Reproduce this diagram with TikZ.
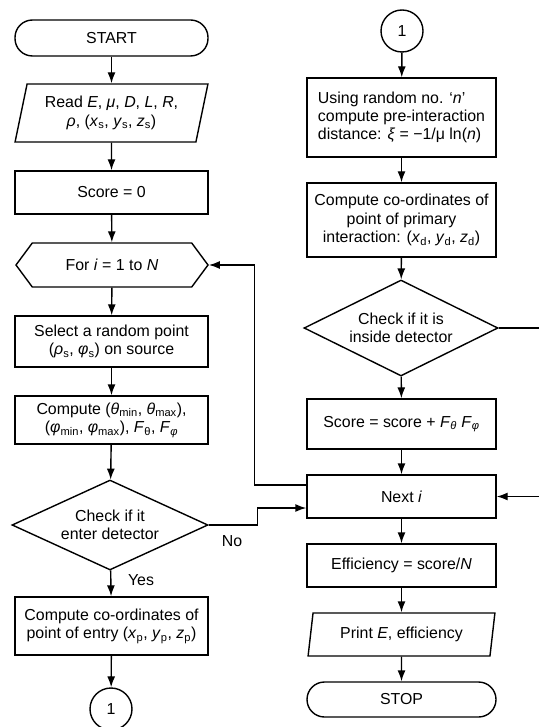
\documentclass[tikz,border=0pt]{standalone}
\usepackage{fontspec}
\setmainfont{Liberation Sans}
\usetikzlibrary{arrows.meta,shapes.geometric,shapes.symbols}

\newcommand{\vsub}[2]{\textit{#1}\textsubscript{#2}}

\tikzset{
  term/.style={draw, rectangle, rounded corners=17.5pt, minimum height=36pt},
  proc/.style={draw, rectangle, inner sep=0pt, align=center},
  io/.style={draw, trapezium, trapezium stretches=true, inner sep=0pt,
    align=center},
  loopbox/.style={draw, signal, signal to=east and west,
    signal pointer angle=107, inner sep=0pt, minimum width=192pt,
    minimum height=44pt},
  decide/.style={draw, diamond, inner sep=0pt, align=center},
  conn/.style={draw, circle, minimum size=42pt, inner sep=0pt},
  arrow/.style={-{Latex[length=11pt,width=8pt]}},
}

\begin{document}
\begin{tikzpicture}[x=1pt, y=-1pt, line width=1.4pt,
    font=\fontsize{15.9}{18.3}\selectfont]
    \useasboundingbox (0,0) rectangle (538,727);

    % left column
    \node[term, minimum width=193pt] (start) at (111.5,38) {START};
    \node[io, minimum width=193pt, minimum height=58pt,
      trapezium left angle=74, trapezium right angle=106] (read) at (111.5,113)
      {Read \textit{E}, \textit{μ}, \textit{D}, \textit{L}, \textit{R},\\
       \textit{ρ}, (\vsub{x}{s}, \vsub{y}{s}, \vsub{z}{s})};
    \node[proc, minimum width=193pt, minimum height=43pt] (score0) at (111.5,192.5) {Score = 0};
    \node[loopbox] (fori) at (112,265) {For \textit{i} = 1 to \textit{N}};
    \node[proc, minimum width=193pt, minimum height=51pt] (select) at (111.5,341.5)
      {Select a random point\\(\vsub{ρ}{s}, \vsub{φ}{s}) on source};
    \node[proc, minimum width=193pt, minimum height=48pt] (angles) at (111.5,420)
      {Compute (\vsub{θ}{min}, \vsub{θ}{max}),\\
       (\vsub{φ}{min}, \vsub{φ}{max}), \vsub{F}{θ}, \textit{F}\textsubscript{\textit{φ}}};
    \node[decide, aspect=2.2, minimum width=196pt, minimum height=90pt] (enter) at (110,525)
      {Check if it\\enter detector};
    \node[proc, minimum width=193pt, minimum height=58pt] (entry) at (111.5,626)
      {Compute co-ordinates of\\point of entry (\vsub{x}{p}, \vsub{y}{p}, \vsub{z}{p})};
    \node[conn] (goA) at (111,709) {1};

    \node (yes) at (141,580) {Yes};
    \node (no) at (232,541) {No};

    % right column
    \node[conn] (goB) at (402,31) {1};
    \node[proc, minimum width=189pt, minimum height=79pt, align=left] (dist) at (401.5,117.5)
      {Using random no. ‘\textit{n}’\\compute pre-interaction\\
       distance: \textit{ξ} = −1/μ ln(\textit{n})};
    \node[proc, minimum width=189pt, minimum height=74pt] (inter) at (401.5,220)
      {Compute co-ordinates of\\point of primary\\
       interaction: (\vsub{x}{d}, \vsub{y}{d}, \vsub{z}{d})};
    \node[decide, aspect=2.02, minimum width=194pt, minimum height=96pt] (inside) at (401,328)
      {Check if it is\\inside detector};
    \node[proc, minimum width=189pt, minimum height=50pt] (scoreupd) at (401.5,424)
      {Score = score + \textit{F}\textsubscript{\textit{θ}} \textit{F}\textsubscript{\textit{φ}}};
    \node[proc, minimum width=189pt, minimum height=43pt] (next) at (401.5,496.5) {Next \textit{i}};
    \node[proc, minimum width=189pt, minimum height=43pt] (eff) at (401.5,565.5)
      {Efficiency = score/\textit{N}};
    \node[io, minimum width=187pt, minimum height=43pt,
      trapezium left angle=77, trapezium right angle=103] (print) at (401.5,634.5)
      {Print \textit{E}, efficiency};
    \node[term, minimum width=189pt, minimum height=35pt] (stop) at (401.5,699.5) {STOP};

    % straight flow
    \foreach \a/\b in {start/read, read/score0, score0/fori, fori/select,
        select/angles, angles/enter, enter/entry, entry/goA,
        goB/dist, dist/inter, inter/inside, inside/scoreupd,
        scoreupd/next, next/eff, eff/print, print/stop}
      \draw[arrow] (\a) -- (\b);

    % loops
    \draw[arrow] ([yshift=11.5pt]next.west) -- ++(-52,0) |- (fori.east);
    \draw[arrow] (enter.east) -- ++(49,0) |- ([yshift=-11.5pt]next.west);
    \coordinate (offedge) at (550,328);
    \draw[arrow] (inside.east) -- (offedge) |- (next.east);
\end{tikzpicture}
\end{document}
